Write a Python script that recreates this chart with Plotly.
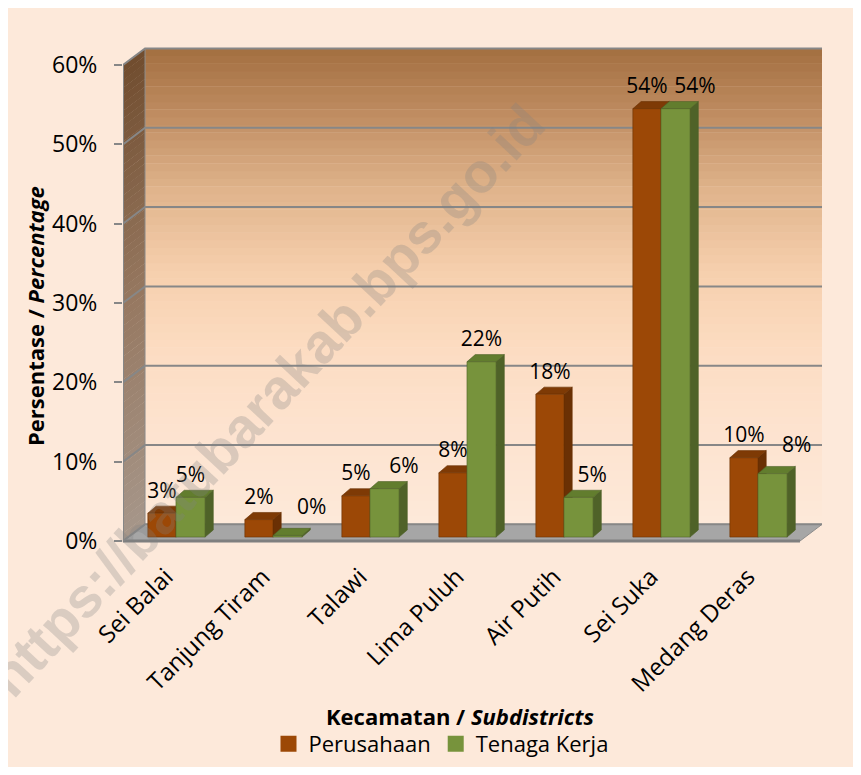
import plotly.graph_objects as go

#%% Data
kecamatan = ['Sei Balai', 'Tanjung Tiram', 'Talawi', 'Lima Puluh', 'Air Putih', 'Sei Suka', 'Medang Deras']
perusahaan = [3.0, 2.2, 5.2, 8.1, 18.0, 54.0, 10.0]     # percent
tenaga_kerja = [5.0, 0.2, 6.1, 22.1, 5.0, 54.0, 8.0]    # percent
y_ticks = [0, 10, 20, 30, 40, 50, 60]

#%% Look
# the page has an 8px body margin, so the figure is 16px smaller than the window
OFF = 8
W, H = 861 - 2 * OFF, 775 - 2 * OFF
FONT = 'Open Sans'
BG = '#FDE9DA'
ORANGE = dict(front='#9C4806', top='#7E3A05', side='#6A3004')
GREEN = dict(front='#77933C', top='#627D2E', side='#4F6228')

X_MIN, X_MAX = -0.546, 6.66      # numeric category axis
Y_MIN, Y_MAX = -0.5, 62.3
WALL_DX, WALL_DY = 0.227, 2.1    # depth of the 3D box
BAR_DX, BAR_DY = 0.085, 0.9      # depth of each bar
BASE = 0.5                       # bars stand a little behind the front edge


def fx(v):
    # page pixel -> paper x
    return (v - OFF) / W


def fy(v):
    # page pixel -> paper y
    return 1 - (v - OFF) / H


def mix(c1, c2, t):
    return 'rgb(%d,%d,%d)' % tuple(round(a + (b - a) * t) for a, b in zip(c1, c2))


def grad(stops, v):
    for (v0, c0), (v1, c1) in zip(stops, stops[1:]):
        if v0 <= v <= v1:
            return mix(c0, c1, (v - v0) / (v1 - v0))
    return mix(stops[-1][1], stops[-1][1], 0)


fig = go.Figure()
shapes = []

# back wall gradient
wall_stops = [(0, (253, 233, 217)), (12, (253, 227, 207)), (22, (252, 220, 194)),
              (32, (246, 207, 173)), (42, (224, 180, 140)), (52, (190, 139, 96)), (62, (156, 104, 56))]
n = 62
for i in range(n):
    y0 = WALL_DY + i * 60 / n
    y1 = WALL_DY + (i + 1) * 60 / n + 0.05
    shapes.append(dict(type='rect', xref='x', yref='y', x0=X_MIN + WALL_DX, x1=X_MAX,
                       y0=y0, y1=min(y1, 60 + WALL_DY), line_width=0,
                       fillcolor=grad(wall_stops, (i + 0.5) * 60 / n), layer='below'))

# left side wall
side_stops = [(0, (166, 150, 138)), (30, (150, 120, 96)), (60, (112, 76, 46))]
for i in range(n):
    y0 = i * 60 / n
    y1 = (i + 1) * 60 / n + 0.05
    xa, xb = X_MIN, X_MIN + WALL_DX
    shapes.append(dict(type='path', xref='x', yref='y', line_width=0, layer='below',
                       path=f'M {xa},{y0} L {xb},{y0 + WALL_DY} L {xb},{min(y1, 60) + WALL_DY} L {xa},{min(y1, 60)} Z',
                       fillcolor=grad(side_stops, (i + 0.5) * 60 / n)))

# floor
shapes.append(dict(type='path', xref='x', yref='y', layer='below', fillcolor='#A6A6A6',
                   line=dict(color='#8C8C8C', width=1),
                   path=f'M {X_MIN},0 L {X_MIN + WALL_DX},{WALL_DY} L {X_MAX},{WALL_DY} L {X_MAX - WALL_DX},0 Z'))
shapes.append(dict(type='line', xref='x', yref='y', x0=X_MIN, x1=X_MAX - WALL_DX, y0=0, y1=0,
                   line=dict(color='#7F7F7F', width=3), layer='below'))

# gridlines on side + back wall
for t in y_ticks:
    shapes.append(dict(type='path', xref='x', yref='y', layer='below',
                       line=dict(color='#878787', width=2),
                       path=f'M {X_MIN},{t} L {X_MIN + WALL_DX},{t + WALL_DY} L {X_MAX},{t + WALL_DY}'))
shapes.append(dict(type='line', xref='x', yref='y', x0=X_MIN + WALL_DX, x1=X_MIN + WALL_DX,
                   y0=WALL_DY, y1=60 + WALL_DY, line=dict(color='#8C8C8C', width=1), layer='below'))
# value axis line
shapes.append(dict(type='line', xref='x', yref='y', x0=X_MIN, x1=X_MIN, y0=0, y1=60,
                   line=dict(color='#878787', width=2), layer='below'))

# outer chart border (left and top edges visible)
shapes.append(dict(type='rect', xref='paper', yref='paper', x0=fx(7), x1=1.05,
                   y0=-0.05, y1=fy(7), line=dict(color='#8C8C8C', width=2), fillcolor='rgba(0,0,0,0)'))


#%% 3D bars
def boxes(values, offset, width):
    front, top, side = ([], []), ([], []), ([], [])
    for k, v in enumerate(values):
        x0, x1 = k + offset, k + offset + width
        y0, y1 = BASE, BASE + v
        for pts, acc in (
            ([(x0, y0), (x1, y0), (x1, y1), (x0, y1)], front),
            ([(x0, y1), (x1, y1), (x1 + BAR_DX, y1 + BAR_DY), (x0 + BAR_DX, y1 + BAR_DY)], top),
            ([(x1, y0), (x1 + BAR_DX, y0 + BAR_DY), (x1 + BAR_DX, y1 + BAR_DY), (x1, y1)], side),
        ):
            acc[0].extend([p[0] for p in pts] + [pts[0][0], None])
            acc[1].extend([p[1] for p in pts] + [pts[0][1], None])
    return front, top, side


for vals, off, wid, col in ((perusahaan, -0.29, 0.29, ORANGE), (tenaga_kerja, 0.0, 0.30, GREEN)):
    front, top, side = boxes(vals, off, wid)
    for face, name in ((side, 'side'), (top, 'top'), (front, 'front')):
        fig.add_trace(go.Scatter(x=face[0], y=face[1], mode='lines', fill='toself',
                                 fillcolor=col[name], line=dict(width=0.6, color=col['side']),
                                 hoverinfo='skip', showlegend=False))

# value labels (green label nudged right when it would collide, like Excel does)
lab_x, lab_y, lab_t = [], [], []
for k, (p, t) in enumerate(zip(perusahaan, tenaga_kerja)):
    lab_x.append(k - 0.145)
    lab_y.append(BASE + p + BAR_DY + 0.4)
    lab_t.append(f'{round(p)}%')
    shift, lift = 0.0, 0.0
    if abs(p - t) < 1:
        shift = 0.2
    elif t < p:
        shift = 0.14
        if p - t < 4:
            shift, lift = 0.25, 0.8
    lab_x.append(k + 0.15 + shift)
    lab_y.append(BASE + t + BAR_DY + 0.4 + lift)
    lab_t.append(f'{round(t)}%')
fig.add_trace(go.Scatter(x=lab_x, y=lab_y, text=lab_t, mode='text', textposition='top center',
                         textfont=dict(family=FONT, size=21, color='black'),
                         hoverinfo='skip', showlegend=False))

# legend entries
for name, col in (('Perusahaan', ORANGE), ('Tenaga Kerja', GREEN)):
    fig.add_trace(go.Scatter(x=[None], y=[None], name=name, mode='markers',
                             marker=dict(symbol='square', size=17, color=col['front'])))

fig.update_layout(
    width=W, height=H, autosize=False,
    margin=dict(l=0, r=0, t=0, b=0, autoexpand=False),
    paper_bgcolor=BG, plot_bgcolor='rgba(0,0,0,0)',
    font=dict(family=FONT, color='black'),
    shapes=shapes,
    xaxis=dict(domain=[fx(123), fx(822)], range=[X_MIN, X_MAX], automargin=False,
               tickvals=list(range(len(kecamatan))), ticktext=kecamatan, tickangle=-45,
               tickfont=dict(size=24), showgrid=False, zeroline=False, showline=False,
               ticks='', ticklabelstandoff=12, ticklabelshift=-10, fixedrange=True),
    yaxis=dict(domain=[fy(545), fy(46.8)], range=[Y_MIN, Y_MAX], automargin=False,
               tickvals=y_ticks, ticktext=[f'{t}%' for t in y_ticks], tickfont=dict(size=23),
               showgrid=False, zeroline=False, showline=False,
               ticks='outside', ticklen=8, tickwidth=2, tickcolor='#878787',
               ticklabelstandoff=12, fixedrange=True),
    legend=dict(orientation='h', x=fx(441), xanchor='center', y=fy(744), yanchor='middle',
                font=dict(size=22), bgcolor='rgba(0,0,0,0)', itemwidth=30),
    annotations=[
        dict(text='<b>Kecamatan / <i>Subdistricts</i></b>', x=fx(460), y=fy(716),
             xref='paper', yref='paper', xanchor='center', yanchor='middle',
             showarrow=False, font=dict(size=22)),
        dict(text='<b>Persentase / <i>Percentage</i></b>', x=fx(35), y=fy(316),
             xref='paper', yref='paper', xanchor='center', yanchor='middle',
             showarrow=False, textangle=-90, font=dict(size=22)),
        dict(text='<b>https://batubarakab.bps.go.id</b>', x=fx(266), y=fy(400),
             xref='paper', yref='paper', xanchor='center', yanchor='middle',
             showarrow=False, textangle=-47,
             font=dict(family='Liberation Sans', size=56, color='rgba(128,128,128,0.28)')),
    ],
)

fig.write_html("out.html")
